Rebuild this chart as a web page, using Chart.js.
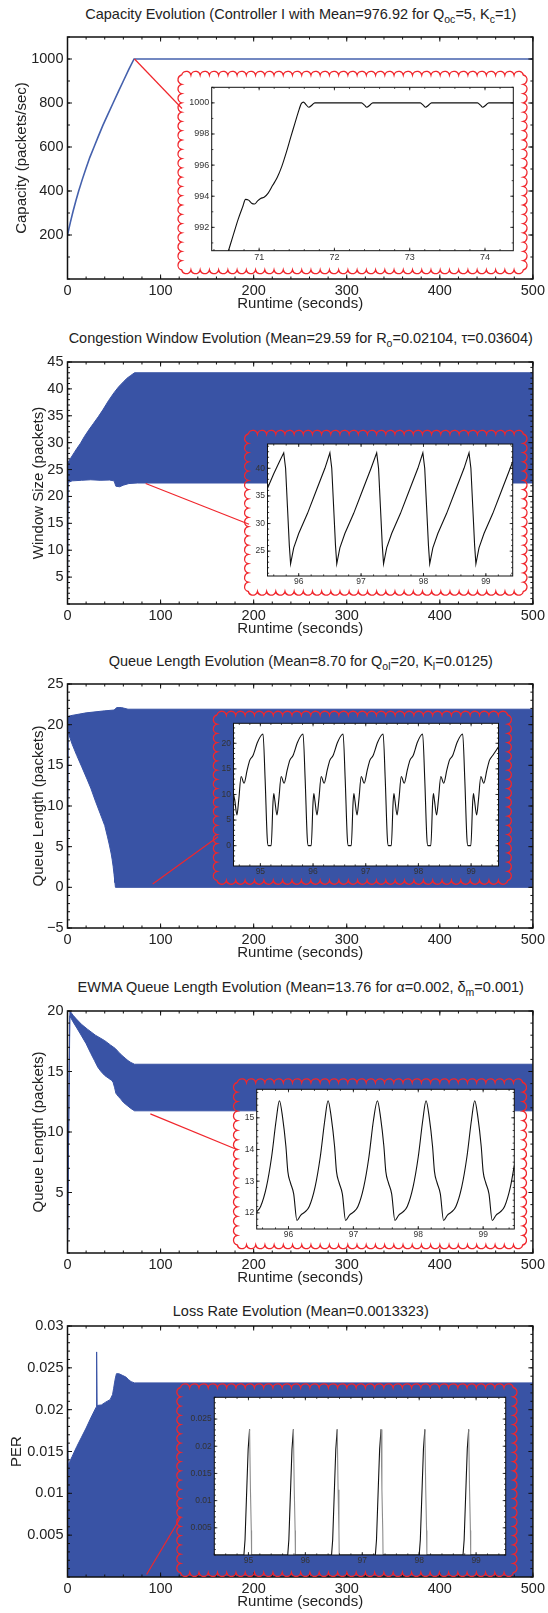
<!DOCTYPE html>
<html>
<head>
<meta charset="utf-8">
<title>Controller evolution</title>
<script src="https://cdn.jsdelivr.net/npm/chart.js@4.4.1/dist/chart.umd.min.js"></script>
<style>
  html, body { margin: 0; padding: 0; background: #fff; }
  body { position: relative; width: 548px; height: 1613px; overflow: hidden; font-family: "Liberation Sans", Arial, Helvetica, sans-serif; }
  canvas { position: absolute; }
  .ttl { position: absolute; left: 0.75px; width: 600px; text-align: center; font-size: 14.5px; line-height: 18px; color: #222; white-space: nowrap; }
  .ttl sub { font-size: 10.5px; line-height: 0; vertical-align: -4px; }
</style>
</head>
<body>
<div class="ttl" style="top:4.5px">Capacity Evolution (Controller I with Mean=976.92 for Q<sub>oc</sub>=5, K<sub>c</sub>=1)</div>
<div class="ttl" style="top:328.5px">Congestion Window Evolution (Mean=29.59 for R<sub>o</sub>=0.02104, τ=0.03604)</div>
<div class="ttl" style="top:652px">Queue Length Evolution (Mean=8.70 for Q<sub>ol</sub>=20, K<sub>l</sub>=0.0125)</div>
<div class="ttl" style="top:978px">EWMA Queue Length Evolution (Mean=13.76 for α=0.002, δ<sub>m</sub>=0.001)</div>
<div class="ttl" style="top:1301.5px">Loss Rate Evolution (Mean=0.0013323)</div>
<script>
// ---------- data ----------
const runtimeTicks = [0, 100, 200, 300, 400, 500];

// capacity
const capX = [0, 3, 6, 9, 12, 16, 20, 24, 28.5, 33, 38, 43, 49, 55, 61, 66, 71.5, 500];
const capY = [200, 256, 308, 356, 400, 454, 505, 553, 600, 647, 698, 745, 800, 855, 909, 954, 1000, 1000];
const capTicks = [200, 400, 600, 800, 1000];
const capZoomFrom = [72, 1000];
const capInX = [70.58, 70.65, 70.72, 70.78, 70.82, 70.86, 70.90, 70.94, 70.98, 71.02,
  71.07, 71.12, 71.18, 71.24, 71.30, 71.36, 71.42, 71.47, 71.52, 71.56,
  71.59, 71.62, 71.66, 71.70, 71.74, 72.36, 72.40, 72.43, 72.47, 72.51,
  73.14, 73.18, 73.21, 73.25, 73.29, 73.90, 73.94, 73.97, 74.01, 74.05, 74.40];
const capInY = [990.3, 991.4, 992.5, 993.3, 993.8, 993.75, 993.55, 993.5, 993.7, 993.85,
  993.95, 994.2, 994.7, 995.2, 995.9, 996.8, 997.8, 998.6, 999.4, 999.95,
  1000.05, 999.9, 999.72, 999.85, 1000, 1000, 999.85, 999.72, 999.85, 1000,
  1000, 999.85, 999.72, 999.85, 1000, 1000, 999.85, 999.72, 999.85, 1000, 1000];
const capInXTicks = [71, 72, 73, 74];
const capInYTicks = [992, 994, 996, 998, 1000];

// congestion window
const cwndTopX = [0, 3, 7, 10, 14, 18, 23, 28, 33, 38, 44, 50, 55, 60, 64, 68, 72, 500];
const cwndTopY = [26.2, 27.0, 28.1, 28.9, 29.9, 31.1, 32.4, 33.6, 34.8, 36.1, 37.8, 39.3, 40.4, 41.3, 42.0, 42.5, 43.0, 43.0];
const cwndLowX = [0, 0.8, 5, 15, 25, 35, 45, 50, 52, 56, 60, 66, 75, 500];
const cwndLowY = [1.0, 22.6, 22.9, 23.0, 23.1, 23.0, 23.05, 22.9, 21.9, 21.8, 22.1, 22.4, 22.5, 22.5];
const cwndTicks = [5, 10, 15, 20, 25, 30, 35, 40, 45];
const cwndZoomFrom = [84, 22.4];
const cwndInX = [95.50, 95.60, 95.70, 95.76, 95.79, 95.82, 95.85, 95.87,
  95.92, 96.00, 96.14, 96.29, 96.42, 96.50, 96.53, 96.56, 96.59, 96.61,
  96.66, 96.74, 96.88, 97.03, 97.16, 97.25, 97.28, 97.31, 97.34, 97.36,
  97.41, 97.49, 97.63, 97.78, 97.91, 97.99, 98.02, 98.05, 98.08, 98.10,
  98.15, 98.23, 98.37, 98.52, 98.65, 98.73, 98.76, 98.79, 98.82, 98.84,
  98.89, 98.97, 99.11, 99.26, 99.39, 99.43];
const cwndInY = [36.4, 39.0, 41.4, 42.8, 40.0, 33.0, 26.0, 22.7,
  25.6, 28.2, 31.8, 36.2, 40.0, 42.8, 40.0, 33.0, 26.0, 22.7,
  25.6, 28.2, 31.8, 36.2, 40.0, 42.8, 40.0, 33.0, 26.0, 22.7,
  25.6, 28.2, 31.8, 36.2, 40.0, 42.8, 40.0, 33.0, 26.0, 22.7,
  25.6, 28.2, 31.8, 36.2, 40.0, 42.8, 40.0, 33.0, 26.0, 22.7,
  25.6, 28.2, 31.8, 36.2, 40.0, 41.2];
const cwndInXTicks = [96, 97, 98, 99];
const cwndInYTicks = [25, 30, 35, 40];

// queue length
const queueTopX = [0, 3, 20, 40, 50, 53, 58, 65, 500];
const queueTopY = [21.0, 21.1, 21.45, 21.7, 21.8, 22.1, 22.1, 21.9, 21.9];
const queueLowX = [0, 0.8, 5, 10, 15, 21, 25, 30, 35, 40, 43, 45, 47, 48, 49, 50, 51, 51.5, 500];
const queueLowY = [0, 19.0, 17.6, 16.2, 14.9, 13.3, 12.2, 10.6, 9.1, 7.6, 6.2, 5.2, 4.1, 3.4, 2.6, 1.6, 0.6, 0, 0];
const queueTicks = [-5, 0, 5, 10, 15, 20, 25];
const queueZoomFrom = [91.5, 0.4];
const queueInX = [94.49, 94.515, 94.555, 94.59, 94.635, 94.69, 94.75, 94.80, 94.86, 94.95, 95.05,
  95.09, 95.13, 95.15, 95.205, 95.24, 95.255, 95.275, 95.315, 95.35, 95.395, 95.45, 95.51, 95.56, 95.62, 95.71, 95.81,
  95.85, 95.89, 95.91, 95.965, 96.00, 96.015, 96.035, 96.075, 96.11, 96.155, 96.21, 96.27, 96.32, 96.38, 96.47, 96.57,
  96.61, 96.65, 96.67, 96.725, 96.76, 96.775, 96.795, 96.835, 96.87, 96.915, 96.97, 97.03, 97.08, 97.14, 97.23, 97.33,
  97.37, 97.41, 97.43, 97.485, 97.52, 97.535, 97.555, 97.595, 97.63, 97.675, 97.73, 97.79, 97.84, 97.90, 97.985, 98.08,
  98.12, 98.16, 98.18, 98.235, 98.27, 98.285, 98.305, 98.345, 98.38, 98.425, 98.48, 98.54, 98.59, 98.65, 98.74, 98.84,
  98.88, 98.92, 98.94, 98.995, 99.03, 99.045, 99.065, 99.105, 99.14, 99.185, 99.24, 99.30, 99.35, 99.41, 99.52];
const queueInY = [10.1, 8.8, 6.0, 9.0, 13.5, 12.2, 14.8, 16.7, 17.6, 20.3, 21.8,
  13.0, 1.5, 0, 0, 8.5, 10.2, 8.8, 6.0, 9.0, 13.5, 12.2, 14.8, 16.7, 17.6, 20.3, 21.8,
  13.0, 1.5, 0, 0, 8.5, 10.2, 8.8, 6.0, 9.0, 13.5, 12.2, 14.8, 16.7, 17.6, 20.3, 21.8,
  13.0, 1.5, 0, 0, 8.5, 10.2, 8.8, 6.0, 9.0, 13.5, 12.2, 14.8, 16.7, 17.6, 20.3, 21.8,
  13.0, 1.5, 0, 0, 8.5, 10.2, 8.8, 6.0, 9.0, 13.5, 12.2, 14.8, 16.7, 17.6, 20.3, 21.8,
  13.0, 1.5, 0, 0, 8.5, 10.2, 8.8, 6.0, 9.0, 13.5, 12.2, 14.8, 16.7, 17.6, 20.3, 21.8,
  13.0, 1.5, 0, 0, 8.5, 10.2, 8.8, 6.0, 9.0, 13.5, 12.2, 14.8, 16.7, 17.6, 19.3];
const queueInXTicks = [95, 96, 97, 98, 99];
const queueInYTicks = [0, 5, 10, 15, 20];

// EWMA queue length
const ewmaTopX = [0, 2.6, 6, 9.4, 15, 21.4, 30, 40, 46, 51.4, 55, 58.9, 62, 65, 68, 72, 500];
const ewmaTopY = [0.8, 20.0, 19.65, 19.35, 18.9, 18.5, 18.0, 17.55, 17.2, 16.9, 16.6, 16.3, 16.1, 15.9, 15.75, 15.6, 15.6];
const ewmaLowX = [0, 2.4, 6, 10, 13.9, 20, 25, 29, 32.6, 36, 40, 44, 47.6, 49, 50.5, 52, 54.5, 57, 60, 64, 68, 72, 500];
const ewmaLowY = [0.5, 19.6, 19.1, 18.6, 18.1, 17.3, 16.5, 15.9, 15.35, 15.0, 14.67, 14.45, 14.26, 14.1, 13.7, 13.2,
  12.95, 12.74, 12.45, 12.2, 11.95, 11.75, 11.75];
const ewmaTicks = [5, 10, 15, 20];
const ewmaZoomFrom = [89, 11.5];
const ewmaInX = [95.51, 95.57, 95.66, 95.74, 95.81, 95.86,
  95.91, 95.96, 95.99, 96.03, 96.08, 96.13, 96.19, 96.25, 96.32, 96.41, 96.49, 96.56, 96.61,
  96.66, 96.71, 96.74, 96.78, 96.83, 96.88, 96.94, 97.00, 97.07, 97.16, 97.24, 97.31, 97.37,
  97.42, 97.47, 97.50, 97.54, 97.59, 97.64, 97.70, 97.76, 97.83, 97.92, 98.00, 98.07, 98.12,
  98.17, 98.22, 98.25, 98.29, 98.34, 98.39, 98.45, 98.51, 98.58, 98.67, 98.75, 98.82, 98.87,
  98.92, 98.97, 99.00, 99.04, 99.09, 99.14, 99.20, 99.26, 99.33, 99.42, 99.48];
const ewmaInY = [12.03, 12.2, 12.82, 13.77, 14.93, 15.54,
  15.0, 14.1, 13.3, 12.95, 12.6, 11.76, 11.93, 12.02, 12.2, 12.82, 13.77, 14.93, 15.54,
  15.0, 14.1, 13.3, 12.95, 12.6, 11.76, 11.93, 12.02, 12.2, 12.82, 13.77, 14.93, 15.54,
  15.0, 14.1, 13.3, 12.95, 12.6, 11.76, 11.93, 12.02, 12.2, 12.82, 13.77, 14.93, 15.54,
  15.0, 14.1, 13.3, 12.95, 12.6, 11.76, 11.93, 12.02, 12.2, 12.82, 13.77, 14.93, 15.54,
  15.0, 14.1, 13.3, 12.95, 12.6, 11.76, 11.93, 12.02, 12.2, 12.82, 13.5];
const ewmaInXTicks = [96, 97, 98, 99];
const ewmaInYTicks = [12, 13, 14, 15];

// loss rate
const lossTopX = [0, 0.8, 5, 10, 15, 20, 25, 30.8, 31.3, 31.8, 36.4, 41, 45.8, 48.4, 49.5, 50.5, 51.5, 52.6,
  55.2, 59, 62.7, 65.5, 68.3, 72, 500];
const lossTopY = [0.0172, 0.0134, 0.0144, 0.0156, 0.0167, 0.0178, 0.019, 0.0203, 0.0269, 0.0205, 0.02056, 0.0209,
  0.0212, 0.0218, 0.0225, 0.0232, 0.0238, 0.0243, 0.0243, 0.0241, 0.0239, 0.0236, 0.02335, 0.0232, 0.0232];
const lossTicks = [0.005, 0.01, 0.015, 0.02, 0.025, 0.03];
const lossZoomFrom = [85, 0.0003];
const lossInX = [94.40,
  94.92, 94.94, 94.975, 94.995, 95.02, 95.035, 95.05, 95.055,
  95.69, 95.71, 95.745, 95.765, 95.79, 95.805, 95.82, 95.825,
  96.46, 96.48, 96.515, 96.535, 96.56, 96.575, 96.59, 96.595,
  97.23, 97.25, 97.285, 97.305, 97.33, 97.345, 97.36, 97.365,
  98.00, 98.02, 98.055, 98.075, 98.10, 98.115, 98.13, 98.135,
  98.77, 98.79, 98.825, 98.845, 98.87, 98.885, 98.90, 98.905,
  99.52];
const lossInY = [0,
  0, 0.0028, 0.0135, 0.0195, 0.0231, 0.012, 0.0045, 0,
  0, 0.0028, 0.0135, 0.0195, 0.0231, 0.012, 0.0045, 0,
  0, 0.0028, 0.0135, 0.0195, 0.0231, 0.012, 0.0045, 0,
  0, 0.0028, 0.0135, 0.0195, 0.0231, 0.012, 0.0045, 0,
  0, 0.0028, 0.0135, 0.0195, 0.0231, 0.012, 0.0045, 0,
  0, 0.0028, 0.0135, 0.0195, 0.0231, 0.012, 0.0045, 0,
  0];
const lossInXTicks = [95, 96, 97, 98, 99];
const lossInYTicks = [0.005, 0.01, 0.015, 0.02, 0.025];

// ---------- look ----------
const TXT = '#222';
const BLUE = '#3953a5';
const RED = '#f0262c';
const FONT = '"Liberation Sans", Arial, Helvetica, sans-serif';
const PAD_TOP = 30, AXIS_H = 36, LEFT = 67.5, RIGHT = 534;

const pts = (xs, ys) => xs.map((x, i) => ({ x, y: ys[i] }));
const fmt = v => v < 0 ? '\u2212' + (-v) : String(v);
const useTicks = arr => s => { s.ticks = arr.map(v => ({ value: v })); };

// matlab-ish box with inward major/minor ticks on all four sides
const frameTicks = {
  id: 'frameTicks',
  beforeDatasetsDraw(chart, args, o) {
    if (!o.bg) return;
    const a = chart.chartArea, ctx = chart.ctx;
    ctx.save();
    ctx.fillStyle = o.bg;
    ctx.fillRect(a.left, a.top, a.right - a.left, a.bottom - a.top);
    ctx.restore();
  },
  afterDatasetsDraw(chart, args, o) {
    if (!o.major) return;
    const { ctx, chartArea: a, scales: { x, y } } = chart;
    ctx.save();
    ctx.strokeStyle = '#111';
    ctx.lineWidth = o.width;
    ctx.beginPath();
    const mark = (s, v, len) => {
      const p = s.getPixelForValue(v);
      if (s.isHorizontal()) {
        ctx.moveTo(p, a.bottom); ctx.lineTo(p, a.bottom - len);
        ctx.moveTo(p, a.top); ctx.lineTo(p, a.top + len);
      } else {
        ctx.moveTo(a.left, p); ctx.lineTo(a.left + len, p);
        ctx.moveTo(a.right, p); ctx.lineTo(a.right - len, p);
      }
    };
    [[x, o.xMinor], [y, o.yMinor]].forEach(([s, step]) => {
      s.ticks.forEach(t => mark(s, t.value, o.major));
      for (let i = Math.ceil(s.min / step - 1e-6); i * step <= s.max + 1e-9; i++) mark(s, i * step, o.minor);
    });
    ctx.stroke();
    ctx.lineWidth = o.frame;
    ctx.strokeRect(a.left, a.top, a.right - a.left, a.bottom - a.top);
    ctx.restore();
  }
};

// red line from the zoomed spot to the inset
const zoomLine = {
  id: 'zoomLine',
  afterDatasetsDraw(chart, args, o) {
    if (!o.from) return;
    const { ctx, scales: { x, y } } = chart;
    ctx.save();
    ctx.strokeStyle = RED;
    ctx.lineWidth = 1.2;
    ctx.beginPath();
    ctx.moveTo(x.getPixelForValue(o.from[0]), y.getPixelForValue(o.from[1]));
    ctx.lineTo(o.to[0], o.to[1]);
    ctx.stroke();
    ctx.restore();
  }
};

// scalloped red frame round each inset
const scallops = {
  id: 'scallops',
  afterDraw(chart, args, o) {
    if (!o.rect) return;
    const ctx = chart.ctx;
    const [l, t, r, b] = o.rect;
    const corners = [[l, t], [r, t], [r, b], [l, b]];
    const normals = [[0, -1], [1, 0], [0, 1], [-1, 0]];
    ctx.save();
    ctx.strokeStyle = RED;
    ctx.lineWidth = 1.3;
    ctx.beginPath();
    for (let e = 0; e < 4; e++) {
      const [ax, ay] = corners[e], [bx, by] = corners[(e + 1) % 4], [nx, ny] = normals[e];
      const n = Math.max(1, Math.round(Math.hypot(bx - ax, by - ay) / 9.3));
      const c = Math.hypot(bx - ax, by - ay) / n, h = c * 0.4;
      const R = (c * c / 4 + h * h) / (2 * h);
      for (let i = 0; i < n; i++) {
        const x0 = ax + (bx - ax) * i / n, y0 = ay + (by - ay) * i / n;
        const x1 = ax + (bx - ax) * (i + 1) / n, y1 = ay + (by - ay) * (i + 1) / n;
        const cx = (x0 + x1) / 2 - nx * (R - h), cy = (y0 + y1) / 2 - ny * (R - h);
        ctx.arc(cx, cy, R, Math.atan2(y0 - cy, x0 - cx), Math.atan2(y1 - cy, x1 - cx), false);
      }
    }
    ctx.stroke();
    ctx.restore();
  }
};

Chart.register(frameTicks, zoomLine, scallops);

const band = (tx, ty, lx, ly) => [
  { data: pts(tx, ty), fill: '+1', backgroundColor: BLUE, borderColor: BLUE, borderWidth: 1 },
  { data: pts(lx, ly), fill: false, borderColor: BLUE, borderWidth: 1 }
];

const panels = [
  { top: 37, bottom: 279, yMin: 0, yMax: 1100, yTicks: capTicks, yMinor: 100,
    yTitle: 'Capacity (packets/sec)', yTitlePad: 12.7, from: capZoomFrom, to: [182, 108.5],
    datasets: [{ data: pts(capX, capY), borderColor: '#4561ad', borderWidth: 1.6, fill: false }] },
  { top: 362, bottom: 604, yMin: 0, yMax: 45, yTicks: cwndTicks, yMinor: 1,
    yTitle: 'Window Size (packets)', yTitlePad: 29.5, from: cwndZoomFrom, to: [249, 524.3],
    datasets: band(cwndTopX, cwndTopY, cwndLowX, cwndLowY) },
  { top: 684, bottom: 928, yMin: -5, yMax: 25, yTicks: queueTicks, yMinor: 1,
    yTitle: 'Queue Length (packets)', yTitlePad: 29.5, from: queueZoomFrom, to: [218, 836.7],
    datasets: band(queueTopX, queueTopY, queueLowX, queueLowY) },
  { top: 1011, bottom: 1253, yMin: 0, yMax: 20, yTicks: ewmaTicks, yMinor: 1,
    yTitle: 'Queue Length (packets)', yTitlePad: 29.5, from: ewmaZoomFrom, to: [238, 1150],
    datasets: band(ewmaTopX, ewmaTopY, ewmaLowX, ewmaLowY) },
  { top: 1326, bottom: 1577, yMin: 0, yMax: 0.03, yTicks: lossTicks, yMinor: 0.001,
    yTitle: 'PER', yTitlePad: 7.6, from: lossZoomFrom, to: [181, 1516.7],
    datasets: [{ data: pts(lossTopX, lossTopY), fill: 'origin', backgroundColor: BLUE, borderColor: BLUE, borderWidth: 1 }] }
];

const insets = [
  { frame: [181.7, 75, 523.3, 270], plot: [211.7, 87.3, 513.3, 250.7], x: [70.37, 74.376], y: [990.5, 1001],
    xTicks: capInXTicks, yTicks: capInYTicks, xMinor: 0.2, yMinor: 1, xs: capInX, ys: capInY, smooth: true, font: 9 },
  { frame: [248.3, 434, 523.3, 591.5], plot: [267.5, 444, 512.7, 576], x: [95.5, 99.43], y: [20.5, 44.4],
    xTicks: cwndInXTicks, yTicks: cwndInYTicks, xMinor: 0.2, yMinor: 1, xs: cwndInX, ys: cwndInY, smooth: false, font: 8.5 },
  { frame: [217, 715, 507.7, 880.5], plot: [233.5, 723.3, 498.5, 866], x: [94.49, 99.52], y: [-3.97, 23.9],
    xTicks: queueInXTicks, yTicks: queueInYTicks, xMinor: 0.2, yMinor: 1, xs: queueInX, ys: queueInY, smooth: true, font: 8.5 },
  { frame: [237.3, 1082.5, 522.7, 1245], plot: [256.7, 1089.3, 514.3, 1229], x: [95.51, 99.48], y: [11.49, 15.9],
    xTicks: ewmaInXTicks, yTicks: ewmaInYTicks, xMinor: 0.2, yMinor: 0.2, xs: ewmaInX, ys: ewmaInY, smooth: true, font: 8.5 },
  { frame: [180.5, 1387.5, 513.3, 1572.7], plot: [214.3, 1397.3, 505.7, 1555], x: [94.4, 99.52], y: [0, 0.029],
    xTicks: lossInXTicks, yTicks: lossInYTicks, xMinor: 0.2, yMinor: 0.001, xs: lossInX, ys: lossInY, smooth: false, font: 8.5,
    segment: { borderColor: c => c.p1.parsed.y < c.p0.parsed.y ? '#8c8c8c' : '#111' } }
];

function addCanvas(left, top, w, h) {
  const cv = document.createElement('canvas');
  cv.width = w; cv.height = h;
  Object.assign(cv.style, { left: left + 'px', top: top + 'px', width: w + 'px', height: h + 'px' });
  document.body.appendChild(cv);
  return cv;
}

panels.forEach(p => {
  const top = p.top - PAD_TOP;
  const cv = addCanvas(0, top, 548, p.bottom - p.top + PAD_TOP + AXIS_H);
  const tickFont = { family: FONT, size: 14.5 };
  const titleFont = { family: FONT, size: 15 };
  new Chart(cv, {
    type: 'line',
    data: { datasets: p.datasets },
    options: {
      responsive: false, animation: false, events: [],
      layout: { padding: { left: 0, right: 548 - RIGHT, top: PAD_TOP, bottom: 0 } },
      elements: { point: { radius: 0 }, line: { tension: 0 } },
      plugins: {
        legend: { display: false }, tooltip: { enabled: false },
        frameTicks: { major: 4.5, minor: 2.5, xMinor: 20, yMinor: p.yMinor, frame: 1.5, width: 1 },
        zoomLine: { from: p.from, to: [p.to[0], p.to[1] - top] }
      },
      scales: {
        x: {
          type: 'linear', min: 0, max: 500,
          afterBuildTicks: useTicks(runtimeTicks), afterFit: s => { s.height = AXIS_H; },
          grid: { display: false, drawTicks: false }, border: { display: false },
          ticks: { autoSkip: false, maxRotation: 0, padding: 3, color: TXT, font: tickFont, callback: fmt },
          title: { display: true, text: 'Runtime (seconds)', color: TXT, font: titleFont, padding: { top: 0, bottom: 2.5 } }
        },
        y: {
          type: 'linear', min: p.yMin, max: p.yMax,
          afterBuildTicks: useTicks(p.yTicks), afterFit: s => { s.width = LEFT; },
          grid: { display: false, drawTicks: false }, border: { display: false },
          ticks: { autoSkip: false, padding: 4, color: TXT, font: tickFont, callback: fmt },
          title: { display: true, text: p.yTitle, color: TXT, font: titleFont, padding: { top: p.yTitlePad, bottom: 0 } }
        }
      }
    }
  });
});

insets.forEach(p => {
  const [fl, ft, fr, fb] = p.frame;
  const [pl, pt, pr, pb] = p.plot;
  const cl = Math.floor(fl - 5), ct = Math.floor(ft - 5), cr = Math.ceil(fr + 5), cb = Math.ceil(fb + 5);
  const cv = addCanvas(cl, ct, cr - cl, cb - ct);
  const font = { family: FONT, size: p.font };
  new Chart(cv, {
    type: 'line',
    data: { datasets: [{ data: pts(p.xs, p.ys), borderColor: '#111', borderWidth: 1.1, fill: false,
      cubicInterpolationMode: p.smooth ? 'monotone' : 'default', tension: 0, segment: p.segment || {} }] },
    options: {
      responsive: false, animation: false, events: [],
      layout: { padding: { left: 0, right: cr - pr, top: pt - ct, bottom: 0 } },
      elements: { point: { radius: 0 } },
      plugins: {
        legend: { display: false }, tooltip: { enabled: false },
        frameTicks: { bg: '#fff', major: 3, minor: 1.6, xMinor: p.xMinor, yMinor: p.yMinor, frame: 1, width: 0.8 },
        scallops: { rect: [fl - cl, ft - ct, fr - cl, fb - ct] }
      },
      scales: {
        x: {
          type: 'linear', min: p.x[0], max: p.x[1],
          afterBuildTicks: useTicks(p.xTicks), afterFit: s => { s.height = cb - pb; },
          grid: { display: false, drawTicks: false }, border: { display: false },
          ticks: { autoSkip: false, maxRotation: 0, padding: 1, color: '#333', font, callback: fmt }
        },
        y: {
          type: 'linear', min: p.y[0], max: p.y[1],
          afterBuildTicks: useTicks(p.yTicks), afterFit: s => { s.width = pl - cl; },
          grid: { display: false, drawTicks: false }, border: { display: false },
          ticks: { autoSkip: false, padding: 2.5, color: '#333', font, callback: fmt }
        }
      }
    }
  });
});
</script>
</body>
</html>
